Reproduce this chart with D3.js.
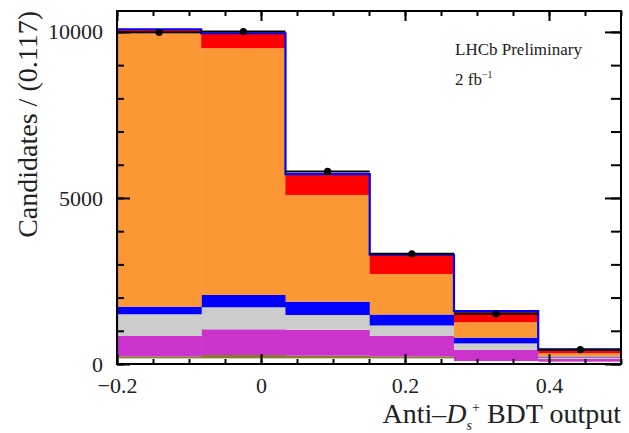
<!DOCTYPE html>
<html>
<head>
<meta charset="utf-8">
<script src="https://cdn.jsdelivr.net/npm/d3@7"></script>
<style>
  body { margin: 0; background: #fff; }
  svg text { font-family: "Liberation Serif", "Times New Roman", serif !important; fill: #222; }
</style>
</head>
<body>
<svg id="chart"></svg>
<script>
// bin edges of the BDT output histogram (width 0.117)
var binEdges = [-0.2, -0.083, 0.034, 0.151, 0.268, 0.385, 0.502];

// stacked components, bottom to top (candidates per bin)
var baseWhite = [170, 170, 170, 170, 90, 70];
var olive     = [60, 100, 80, 60, 0, 0];
var magenta   = [613, 775, 780, 613, 332, 80];
var grey      = [654, 663, 446, 317, 198, 45];
var blueBkg   = [229, 370, 401, 330, 173, 25];
var orange    = [8234, 7432, 3213, 1221, 463, 102];
var red       = [120, 450, 630, 579, 334, 118];

// data points
var dataVals = [9990, 10010, 5800, 3320, 1510, 430];

var xMajor = [-0.2, 0, 0.2, 0.4];
var yMajor = [0, 5000, 10000];

var keys = ["baseWhite", "olive", "magenta", "grey", "blueBkg", "orange", "red"];
var colorsByKey = {
  baseWhite: "#ffffff",
  olive: "#8a7a2a",
  magenta: "#cc33cc",
  grey: "#cccccc",
  blueBkg: "#0000ff",
  orange: "#fc9735",
  red: "#ff0000"
};

var screen = { width: 629, height: 433 };
var margins = { top: 11, bottom: 69, left: 117, right: 8 };
var serif = "'Liberation Serif', 'Times New Roman', serif";

var svg = d3.select("#chart")
  .attr("width", screen.width)
  .attr("height", screen.height);

var xScale = d3.scaleLinear()
  .domain([-0.2, 0.5])
  .range([margins.left, screen.width - margins.right]);

var yScale = d3.scaleLinear()
  .domain([0, 10630])
  .range([screen.height - margins.bottom, margins.top]);

// table for d3.stack
var series = { baseWhite: baseWhite, olive: olive, magenta: magenta, grey: grey,
               blueBkg: blueBkg, orange: orange, red: red };
var rows = binEdges.slice(0, -1).map(function(lo, i) {
  var r = { lo: lo, hi: binEdges[i + 1] };
  keys.forEach(function(k) { r[k] = series[k][i]; });
  return r;
});

var stacked = d3.stack().keys(keys)(rows);

svg.append("clipPath").attr("id", "plotclip")
  .append("rect")
  .attr("x", xScale(-0.2)).attr("y", yScale.range()[1])
  .attr("width", xScale(0.5) - xScale(-0.2))
  .attr("height", yScale.range()[0] - yScale.range()[1]);

var plot = svg.append("g").attr("clip-path", "url(#plotclip)");

var layers = plot.selectAll("g.layer")
  .data(stacked)
  .enter()
  .append("g")
  .classed("layer", true)
  .attr("fill", function(d) { return colorsByKey[d.key]; });

layers.selectAll("rect")
  .data(function(d) { return d; })
  .enter()
  .append("rect")
  .attr("x", function(d) { return xScale(d.data.lo); })
  .attr("width", function(d) { return xScale(d.data.hi) - xScale(d.data.lo) + 0.5; })
  .attr("y", function(d) { return yScale(d[1]); })
  .attr("height", function(d) { return yScale(d[0]) - yScale(d[1]); });

// total outline (blue step)
var totals = stacked[stacked.length - 1].map(function(d) { return d[1]; });
var outline = [[binEdges[0], 0]];
totals.forEach(function(t, i) {
  outline.push([binEdges[i], t]);
  outline.push([binEdges[i + 1], t]);
});
outline.push([binEdges[binEdges.length - 1], 0]);

plot.append("path")
  .datum(outline)
  .attr("fill", "none")
  .attr("stroke", "#0000ff")
  .attr("stroke-width", 2.2)
  .attr("d", d3.line()
    .x(function(d) { return xScale(d[0]); })
    .y(function(d) { return yScale(d[1]); }));

// data: x error bar, y error bar, marker
var pts = plot.append("g").classed("data", true);
dataVals.forEach(function(v, i) {
  var lo = binEdges[i], hi = binEdges[i + 1], mid = (lo + hi) / 2;
  var err = Math.sqrt(v);
  pts.append("line")
    .attr("x1", xScale(lo)).attr("x2", xScale(hi))
    .attr("y1", yScale(v)).attr("y2", yScale(v))
    .attr("stroke", "#000").attr("stroke-width", 2);
  pts.append("line")
    .attr("x1", xScale(mid)).attr("x2", xScale(mid))
    .attr("y1", yScale(v - err)).attr("y2", yScale(v + err))
    .attr("stroke", "#000").attr("stroke-width", 2);
  pts.append("circle")
    .attr("cx", xScale(mid)).attr("cy", yScale(v))
    .attr("r", 3.6).attr("fill", "#000");
});

// axes (ticks pointing inward, mirrored on top/right)
var x0 = xScale(-0.2), x1 = xScale(0.5);
var y0 = yScale.range()[0], y1 = yScale.range()[1];
var xMinor = d3.range(-0.2, 0.5001, 0.05).map(function(d) { return +d.toFixed(2); });
var yMinor = d3.range(0, 10001, 1000);
var fmtX = function(d) { return d === 0 ? "0" : d3.format(".1f")(d); };

function styleAxis(g) {
  g.attr("font-family", null).attr("font-size", null);
  g.select(".domain").remove();
  g.selectAll(".tick line").attr("stroke", "#000").attr("stroke-width", 2);
  g.selectAll(".tick text")
    .style("font-family", serif)
    .style("font-size", "22px")
    .attr("fill", "#222");
}

svg.append("g").attr("transform", "translate(0," + y0 + ")")
  .call(d3.axisBottom(xScale).tickValues(xMinor).tickSize(-5).tickFormat(""))
  .call(styleAxis);
svg.append("g").attr("transform", "translate(0," + y0 + ")")
  .call(d3.axisBottom(xScale).tickValues(xMajor).tickSize(-10).tickPadding(13).tickFormat(fmtX))
  .call(styleAxis);
svg.append("g").attr("transform", "translate(0," + y1 + ")")
  .call(d3.axisTop(xScale).tickValues(xMinor).tickSize(-5).tickFormat(""))
  .call(styleAxis);
svg.append("g").attr("transform", "translate(0," + y1 + ")")
  .call(d3.axisTop(xScale).tickValues(xMajor).tickSize(-10).tickFormat(""))
  .call(styleAxis);

svg.append("g").attr("transform", "translate(" + x0 + ",0)")
  .call(d3.axisLeft(yScale).tickValues(yMinor).tickSize(-7).tickFormat(""))
  .call(styleAxis);
svg.append("g").attr("transform", "translate(" + x0 + ",0)")
  .call(d3.axisLeft(yScale).tickValues(yMajor).tickSize(-13).tickPadding(14).tickFormat(d3.format("d")))
  .call(styleAxis);
svg.append("g").attr("transform", "translate(" + x1 + ",0)")
  .call(d3.axisRight(yScale).tickValues(yMinor).tickSize(-10).tickFormat(""))
  .call(styleAxis);
svg.append("g").attr("transform", "translate(" + x1 + ",0)")
  .call(d3.axisRight(yScale).tickValues(yMajor).tickSize(-16).tickFormat(""))
  .call(styleAxis);

// frame
svg.append("rect")
  .attr("x", x0).attr("y", y1)
  .attr("width", x1 - x0).attr("height", y0 - y1)
  .attr("fill", "none").attr("stroke", "#000").attr("stroke-width", 2);

// axis titles
svg.append("text")
  .attr("transform", "translate(37," + y1 + ") rotate(-90)")
  .attr("text-anchor", "end")
  .style("font-family", serif)
  .style("font-size", "28px")
  .text("Candidates / (0.117)");

var xt = svg.append("text")
  .attr("x", x1).attr("y", 423)
  .attr("text-anchor", "end")
  .style("font-family", serif)
  .style("font-size", "28px");
xt.append("tspan").text("Anti\u2013");
xt.append("tspan").attr("font-style", "italic").text("D");
xt.append("tspan").style("font-size", "14px").attr("font-style", "italic").attr("dy", 7).text("s");
xt.append("tspan").style("font-size", "14px").attr("dy", -18).text("+");
xt.append("tspan").attr("dy", 11).text(" BDT output");

// labels
svg.append("text")
  .attr("x", 455).attr("y", 55)
  .style("font-family", serif)
  .style("font-size", "17px")
  .text("LHCb Preliminary");

var lumi = svg.append("text")
  .attr("x", 455).attr("y", 85)
  .style("font-family", serif)
  .style("font-size", "17px");
lumi.append("tspan").text("2 fb");
lumi.append("tspan").style("font-size", "10px").attr("dy", -7).text("\u22121");
</script>
</body>
</html>
